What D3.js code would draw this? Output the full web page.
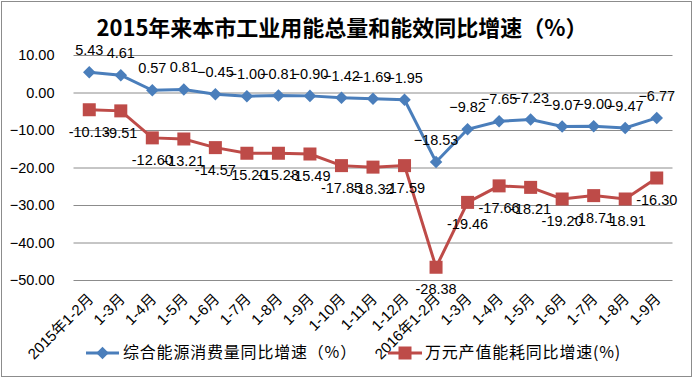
<!DOCTYPE html>
<html>
<head>
<meta charset="utf-8">
<script src="https://cdn.jsdelivr.net/npm/d3@7"></script>
<style>
  body { margin: 0; background: #fff; }
  text { font-family: "Liberation Sans", "Noto Sans CJK SC", sans-serif; }
</style>
</head>
<body>
<div id="chart"></div>
<script>
const BLUE = "#4a7ebb"
const RED = "#be4b48"

const months = ["2015年1-2月", "1-3月", "1-4月", "1-5月", "1-6月", "1-7月", "1-8月", "1-9月", "1-10月", "1-11月", "1-12月",
  "2016年1-2月", "1-3月", "1-4月", "1-5月", "1-6月", "1-7月", "1-8月", "1-9月"];
// 综合能源消费量同比增速
const energyValues = [5.43, 4.61, 0.57, 0.81, -0.45, -1.00, -0.81, -0.90, -1.42, -1.69, -1.95,
  -18.53, -9.82, -7.65, -7.23, -9.07, -9.00, -9.47, -6.77];
// 万元产值能耗同比增速: where the points sit on the chart
const intensityValues = [-4.6, -4.9, -12.1, -12.4, -14.7, -16.2, -16.2, -16.4, -19.5, -19.9, -19.5,
  -46.6, -29.3, -24.9, -25.3, -28.4, -27.5, -28.4, -22.8];
// ...and the numbers printed next to them
const intensityLabels = ["-10.13", "-9.51", "-12.60", "-13.21", "-14.57", "-15.20", "-15.28", "-15.49", "-17.85", "-18.32", "-17.59",
  "-28.38", "-19.46", "-17.66", "-18.21", "-19.20", "-18.71", "-18.91", "-16.30"];
const yTicks = [10, 0, -10, -20, -30, -40, -50];

let width = 695, height = 380;
let svg = d3.select("#chart").append("svg").attr("width", width).attr("height", height);

svg.append("rect").attr("x", 1.5).attr("y", 1.5).attr("width", 690).attr("height", 375)
  .attr("fill", "#fff").attr("stroke", "#8c8c8c");

svg.append("text").attr("x", 342).attr("y", 36).attr("text-anchor", "middle")
  .attr("font-size", "22px").attr("font-weight", "bold")
  .style("font-family", "'Noto Sans CJK SC', sans-serif")
  .text("2015年来本市工业用能总量和能效同比增速（%）");

let x = d3.scalePoint().domain(d3.range(months.length)).range([73.5, 672.5]).padding(0.5);
let y = d3.scaleLinear().domain([-50, 10]).range([280, 55]);

let yAxis = svg.append("g").attr("transform", "translate(73.5,0)")
  .call(d3.axisLeft(y).tickValues(yTicks).tickFormat(d3.format(".2f"))
    .tickSize(-599).tickPadding(19));
yAxis.select(".domain").remove();
yAxis.selectAll("line").attr("stroke", "#8c8c8c");
yAxis.selectAll("text").attr("font-size", "14.5px").attr("fill", "#000")
  .style("font-family", "'Liberation Sans', sans-serif");

// x labels, rotated
svg.append("g").selectAll("text").data(months).join("text")
  .attr("transform", (d, i) => "translate(" + (x(i) + 5) + ",300) rotate(-45)")
  .attr("text-anchor", "end")
  .attr("font-size", "15px")
  .text(d => d);

let line = d3.line().x((d, i) => x(i)).y(d => y(d));

svg.append("path").datum(intensityValues).attr("d", line)
  .attr("fill", "none").attr("stroke", RED).attr("stroke-width", 3);
svg.append("path").datum(energyValues).attr("d", line)
  .attr("fill", "none").attr("stroke", BLUE).attr("stroke-width", 3);

svg.append("g").selectAll("rect").data(intensityValues).join("rect")
  .attr("x", (d, i) => x(i) - 6.5).attr("y", d => y(d) - 6.5)
  .attr("width", 13).attr("height", 13).attr("fill", RED);

let diamond = d3.symbol().type(d3.symbolDiamond2).size(100);
svg.append("g").selectAll("path").data(energyValues).join("path")
  .attr("d", diamond)
  .attr("transform", (d, i) => "translate(" + x(i) + "," + y(d) + ")")
  .attr("fill", BLUE);

// data labels
svg.append("g").selectAll("text").data(energyValues).join("text")
  .attr("x", (d, i) => x(i)).attr("y", d => y(d) - 17)
  .attr("text-anchor", "middle").attr("font-size", "14.5px")
  .text(d => d3.format(".2f")(d));

svg.append("g").selectAll("text").data(intensityValues).join("text")
  .attr("x", (d, i) => x(i)).attr("y", d => y(d) + 27)
  .attr("text-anchor", "middle").attr("font-size", "14.5px")
  .text((d, i) => intensityLabels[i]);

// legend
let legend = svg.append("g");
legend.append("line").attr("x1", 86).attr("x2", 119).attr("y1", 353).attr("y2", 353)
  .attr("stroke", BLUE).attr("stroke-width", 3);
legend.append("path").attr("d", diamond).attr("transform", "translate(102.5,353)").attr("fill", BLUE);
legend.append("text").attr("x", 123).attr("y", 358).attr("font-size", "16px")
  .style("font-family", "'Noto Sans CJK SC', sans-serif").attr("letter-spacing", "0.8px")
  .text("综合能源消费量同比增速（%）");

legend.append("line").attr("x1", 388).attr("x2", 422).attr("y1", 353).attr("y2", 353)
  .attr("stroke", RED).attr("stroke-width", 3);
legend.append("rect").attr("x", 398.5).attr("y", 346.5).attr("width", 13).attr("height", 13).attr("fill", RED);
legend.append("text").attr("x", 425).attr("y", 358).attr("font-size", "16px")
  .style("font-family", "'Noto Sans CJK SC', sans-serif").attr("letter-spacing", "0.8px")
  .text("万元产值能耗同比增速(%)");
</script>
</body>
</html>
